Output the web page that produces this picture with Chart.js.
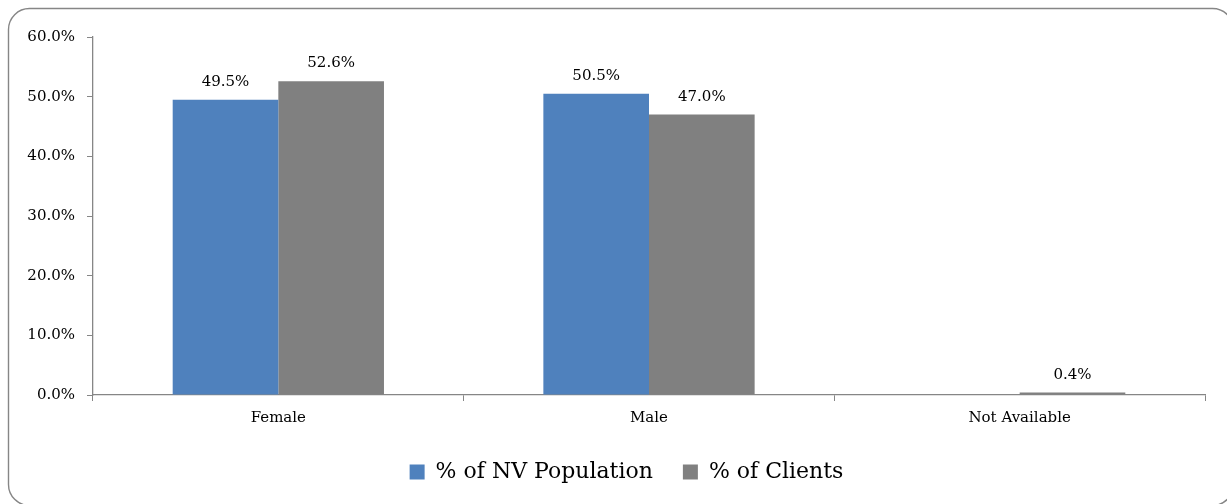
<!DOCTYPE html>
<html>
<head>
<meta charset="utf-8">
<script src="https://cdn.jsdelivr.net/npm/chart.js@4/dist/chart.umd.min.js"></script>
<style>
  html, body { margin: 0; padding: 0; background: #fff; }
  #wrap { width: 1227px; height: 504px; }
</style>
</head>
<body>
<div id="wrap"><canvas id="stage" width="1227" height="504"></canvas></div>
<script>
// data
var categories = ["Female", "Male", "Not Available"];
var nvPopulation = [49.5, 50.5, null];
var clients = [52.6, 47.0, 0.4];
var seriesNames = ["% of NV Population", "% of Clients"];
var yTicks = [0, 10, 20, 30, 40, 50, 60];

var axisGray = "#868686";
var fontName = "'DejaVu Serif', 'Liberation Serif', serif";

// rounded frame round the whole chart (runs a little off the right/bottom edge)
var framePlugin = {
   id: "frame",
   beforeDraw: function(chart){
      var ctx = chart.ctx;
      ctx.save();
      ctx.fillStyle = "#fff";
      ctx.fillRect(0, 0, chart.width, chart.height);
      ctx.beginPath();
      ctx.roundRect(8.5, 8.5, 1225, 497, 21);
      ctx.strokeStyle = axisGray;
      ctx.lineWidth = 1.4;
      ctx.stroke();
      ctx.restore();
   },
   // move the legend down/right so it sits like in excel
   afterLayout: function(chart){
      var lg = chart.legend;
      if(!lg) return;
      lg.top = 472 - lg.options.labels.padding - 11;
      lg.bottom = lg.top + lg.height;
      lg.left += 24;
      lg.right += 24;
   }
};

// value labels above the bars
var valueLabels = {
   id: "valueLabels",
   afterDatasetsDraw: function(chart){
      var ctx = chart.ctx;
      ctx.save();
      ctx.font = "15px " + fontName;
      ctx.fillStyle = "#000";
      ctx.textAlign = "center";
      ctx.textBaseline = "alphabetic";
      chart.data.datasets.forEach(function(ds, i){
         var meta = chart.getDatasetMeta(i);
         meta.data.forEach(function(bar, j){
            var v = ds.data[j];
            if(v === null) return;
            ctx.fillText(v.toFixed(1) + "%", bar.x, bar.y - 14);
         });
      });
      ctx.restore();
   }
};

var mydata = {
   labels: categories,
   datasets: [
      {
         label: seriesNames[0],
         data: nvPopulation,
         backgroundColor: "#4F81BD",
         categoryPercentage: 0.57,
         barPercentage: 1.0
      },
      {
         label: seriesNames[1],
         data: clients,
         backgroundColor: "#808080",
         categoryPercentage: 0.57,
         barPercentage: 1.0
      }
   ]
};

var options = {
   responsive: false,
   animation: false,
   layout: {
      padding: { left: 0, right: 22, top: 37, bottom: 15 }
   },
   plugins: {
      tooltip: { enabled: false },
      legend: {
         position: "bottom",
         labels: {
            font: { family: fontName, size: 22 },
            color: "#000",
            boxWidth: 15,
            boxHeight: 15,
            padding: 30
         }
      }
   },
   scales: {
      x: {
         grid: {
            offset: true,
            drawOnChartArea: false,
            drawTicks: true,
            tickLength: 6,
            color: axisGray
         },
         border: { color: axisGray, width: 1.3 },
         ticks: {
            font: { family: fontName, size: 15 },
            color: "#000",
            padding: 8
         },
         afterFit: function(scale){ scale.height = 32; }
      },
      y: {
         min: 0,
         max: 60,
         afterBuildTicks: function(scale){
            scale.ticks = yTicks.map(function(v){ return { value: v }; });
         },
         grid: {
            drawOnChartArea: false,
            drawTicks: true,
            tickLength: 6,
            color: axisGray
         },
         border: { color: axisGray, width: 1.3 },
         ticks: {
            font: { family: fontName, size: 15 },
            color: "#000",
            padding: 12,
            callback: function(v){ return v.toFixed(1) + "%"; }
         },
         afterFit: function(scale){ scale.width = 93; }
      }
   }
};

var canvas = document.getElementById("stage");
var chart = new Chart(canvas, {
   type: "bar",
   data: mydata,
   options: options,
   plugins: [framePlugin, valueLabels]
});
</script>
</body>
</html>
